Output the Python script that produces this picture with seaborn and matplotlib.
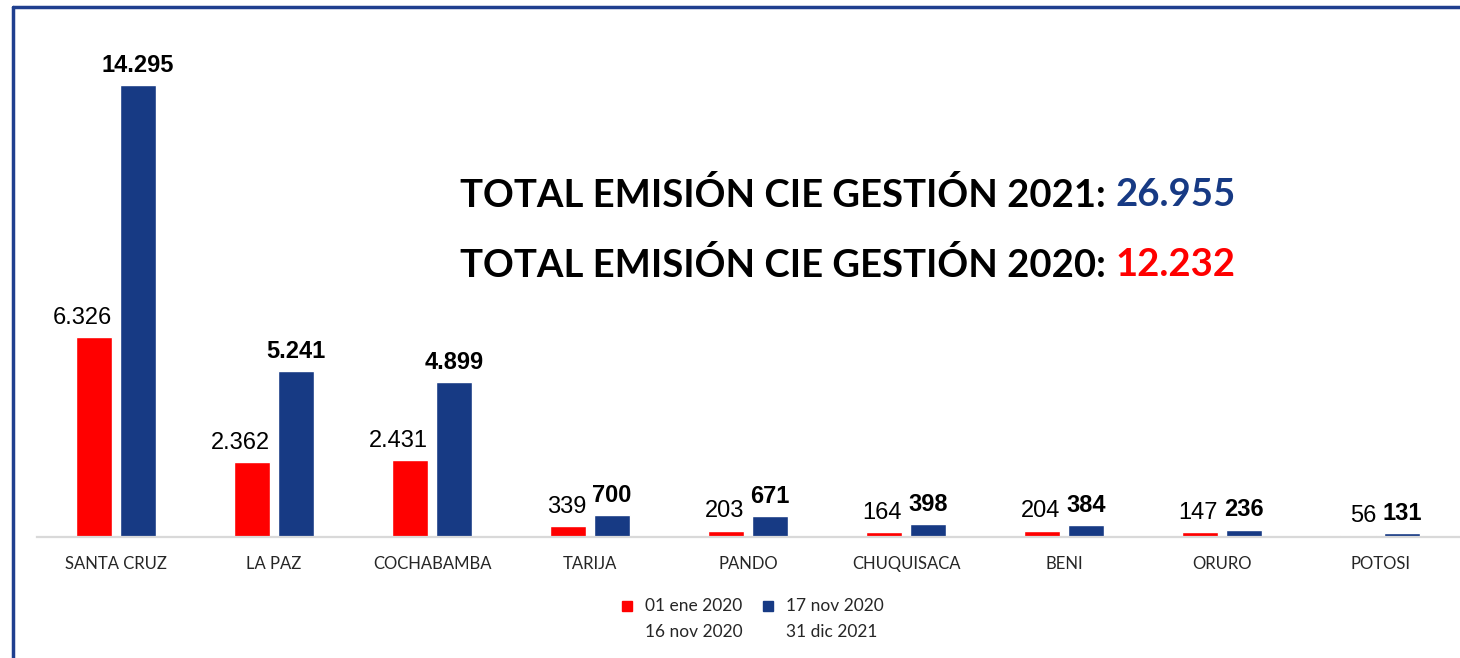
import numpy as np
import pandas as pd
import matplotlib.pyplot as plt
import seaborn as sns
from matplotlib.patches import Rectangle
from matplotlib.lines import Line2D

# datos por departamento
departamentos = ['SANTA CRUZ', 'LA PAZ', 'COCHABAMBA', 'TARIJA', 'PANDO',
                 'CHUQUISACA', 'BENI', 'ORURO', 'POTOSI']
periodo_1 = [6326, 2362, 2431, 339, 203, 164, 204, 147, 56]      # 01 ene 2020 - 16 nov 2020
periodo_2 = [14295, 5241, 4899, 700, 671, 398, 384, 236, 131]    # 17 nov 2020 - 31 dic 2021
series = ['P1', 'P2']
leyenda_l1 = ['01 ene 2020', '17 nov 2020']
leyenda_l2 = ['16 nov 2020', '31 dic 2021']
total_2021 = '26.955'
total_2020 = '12.232'

rojo = '#FF0000'
azul = '#173A84'

df = pd.DataFrame({
    'dep': departamentos * 2,
    'serie': ['P1'] * len(departamentos) + ['P2'] * len(departamentos),
    'valor': periodo_1 + periodo_2,
})

sns.set_theme(style='white')
plt.rcParams['font.family'] = ['Liberation Sans', 'DejaVu Sans']

W, H = 1460, 658
fig = plt.figure(figsize=(14.6, 6.58), dpi=100)
ax = fig.add_axes([37 / W, (H - 537) / H, 1422 / W, (537 - 30) / H])

sns.barplot(data=df, x='dep', y='valor', hue='serie', hue_order=series,
            palette=[rojo, azul], width=0.557, gap=0.18, ax=ax,
            legend=False, saturation=1, errorbar=None)

ax.set_ylim(0, 16034)
ax.set_xlim(-0.5, len(departamentos) - 0.5)
ax.set_xlabel('')
ax.set_ylabel('')
ax.set_yticks([])
for s in ['top', 'left', 'right']:
    ax.spines[s].set_visible(False)
ax.spines['bottom'].set_color('#D9D9D9')
ax.spines['bottom'].set_linewidth(1.6)
ax.tick_params(axis='x', length=0, pad=14)
tfam = ['Lato', 'DejaVu Sans']
for t in ax.get_xticklabels():
    t.set_family(tfam)
    t.set_fontsize(12)
    t.set_color('#262626')

def fmt(v):
    return f'{int(v):,}'.replace(',', '.')

# etiquetas de valores: rojas alineadas a la derecha de la barra, azules centradas
for k, cont in enumerate(ax.containers):
    for bar in cont:
        v = bar.get_height()
        if k == 0:
            xy = (bar.get_x() + bar.get_width(), v)
            ha, peso = 'right', 'normal'
        else:
            xy = (bar.get_x() + bar.get_width() / 2, v)
            ha, peso = 'center', 'bold'
        ax.annotate(fmt(v), xy, xytext=(0, 9.5), textcoords='offset points',
                    ha=ha, va='baseline', fontsize=17, fontweight=peso,
                    color='black')

# totales
fig.canvas.draw()
for y, etiqueta, num, col in [(195, 'TOTAL EMISIÓN CIE GESTIÓN 2021: ', total_2021, azul),
                              (265, 'TOTAL EMISIÓN CIE GESTIÓN 2020: ', total_2020, rojo)]:
    t1 = fig.text(0, 1 - y / H, etiqueta, family=tfam, fontweight='bold',
                  fontsize=27.5, color='black', ha='left', va='center')
    t2 = fig.text(0, 1 - y / H, num, family=tfam, fontweight='bold',
                  fontsize=27.5, color=col, ha='left', va='center')
    r = fig.canvas.get_renderer()
    w1 = t1.get_window_extent(r).width
    w2 = t2.get_window_extent(r).width
    x0 = 848 - (w1 + w2) / 2
    t1.set_x(x0 / W)
    t2.set_x((x0 + w1) / W)

# leyenda
for i, (c, l1, l2) in enumerate(zip([rojo, azul], leyenda_l1, leyenda_l2)):
    x0 = [622, 763][i]
    fig.patches.append(Rectangle((x0 / W, 1 - 611 / H), 10 / W, 10 / H,
                                 transform=fig.transFigure, color=c))
    fig.text((x0 + 23) / W, 1 - 606 / H, l1, family=tfam, fontsize=12.5,
             color='#262626', ha='left', va='center')
    fig.text((x0 + 23) / W, 1 - 632 / H, l2, family=tfam, fontsize=12.5,
             color='#262626', ha='left', va='center')

# marco
fig.add_artist(Line2D([13 / W, 1], [1 - 7 / H, 1 - 7 / H], transform=fig.transFigure,
                      color='#1F3F8F', lw=2.5))
fig.add_artist(Line2D([13 / W, 13 / W], [0, 1 - 7 / H], transform=fig.transFigure,
                      color='#1F3F8F', lw=2.5))

fig.savefig('out.png', dpi=100)
